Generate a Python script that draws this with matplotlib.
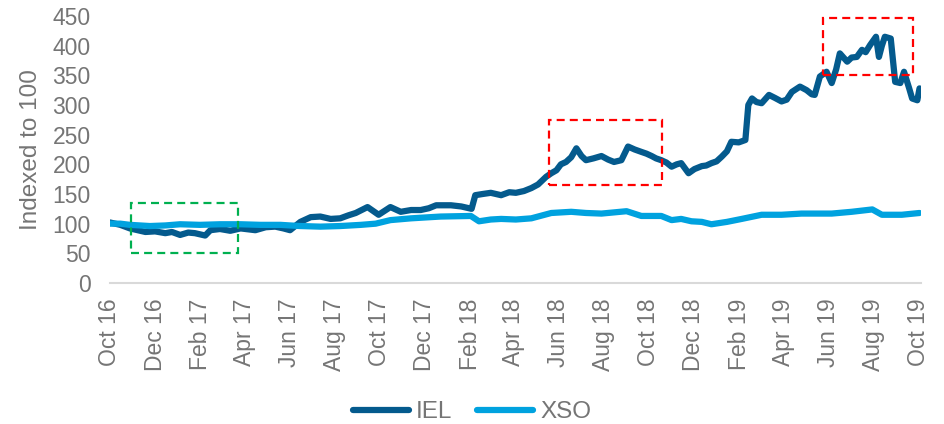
import matplotlib
matplotlib.use("Agg")
import matplotlib.pyplot as plt
import matplotlib.dates as mdates
from matplotlib.patches import Rectangle
import pandas as pd

plt.rcParams['font.family'] = ['Liberation Sans', 'DejaVu Sans']

# ---------------- data ----------------
iel_dates = [
    "2016-10-01", "2016-10-15", "2016-10-28", "2016-11-18", "2016-12-01", "2016-12-15",
    "2016-12-24", "2017-01-04", "2017-01-15", "2017-01-24", "2017-02-07", "2017-02-14",
    "2017-02-27", "2017-03-13", "2017-03-27", "2017-04-16", "2017-04-30", "2017-05-13",
    "2017-05-24", "2017-06-02", "2017-06-16", "2017-06-30", "2017-07-13", "2017-07-27",
    "2017-08-09", "2017-08-20", "2017-08-30", "2017-09-15", "2017-09-30", "2017-10-16",
    "2017-10-30", "2017-11-13", "2017-11-26", "2017-12-07", "2017-12-17", "2018-01-06",
    "2018-01-20", "2018-02-03", "2018-02-08", "2018-02-18", "2018-03-01", "2018-03-15",
    "2018-03-26", "2018-04-04", "2018-04-15", "2018-04-25", "2018-05-04", "2018-05-15",
    "2018-05-22", "2018-05-29", "2018-06-04", "2018-06-11", "2018-06-18", "2018-06-25",
    "2018-07-02", "2018-07-08", "2018-07-18", "2018-07-29", "2018-08-07", "2018-08-15",
    "2018-08-25", "2018-09-03", "2018-09-12", "2018-09-21", "2018-09-28", "2018-10-05",
    "2018-10-11", "2018-10-18", "2018-10-25", "2018-11-01", "2018-11-08", "2018-11-14",
    "2018-11-24", "2018-12-02", "2018-12-12", "2018-12-18", "2018-12-25", "2019-01-01",
    "2019-01-08", "2019-01-15", "2019-01-21", "2019-01-31", "2019-02-09", "2019-02-13",
    "2019-02-18", "2019-02-24", "2019-03-03", "2019-03-13", "2019-03-21", "2019-03-30",
    "2019-04-06", "2019-04-13", "2019-04-24", "2019-05-03", "2019-05-10", "2019-05-14",
    "2019-05-21", "2019-05-30", "2019-06-06", "2019-06-12", "2019-06-17", "2019-06-27",
    "2019-07-03", "2019-07-10", "2019-07-17", "2019-07-22", "2019-07-28", "2019-08-05",
    "2019-08-09", "2019-08-13", "2019-08-17", "2019-08-25", "2019-08-31", "2019-09-07",
    "2019-09-12", "2019-09-19", "2019-09-23", "2019-09-30", "2019-10-03",
]
iel_values = [
    102, 98, 92, 86, 87, 84,
    86, 81, 85, 84, 80, 89,
    91, 88, 92, 89, 94, 95,
    92, 89, 103, 111, 112, 108,
    109, 114, 118, 128, 115, 128,
    120, 123, 123, 126, 131, 131,
    129, 125, 148, 150, 152, 148,
    153, 152, 155, 160, 166, 179,
    185, 190, 200, 204, 212, 227,
    214, 207, 210, 214, 208, 204,
    207, 230, 225, 221, 218, 214,
    210, 207, 203, 196, 200, 202,
    185, 192, 197, 198, 202, 205,
    213, 222, 238, 237, 241, 300,
    311, 305, 303, 317, 312, 306,
    309, 322, 331, 325, 318, 317,
    348, 356, 337, 360, 387, 373,
    380, 381, 393, 389, 401, 415,
    381, 400, 415, 412, 339, 337,
    356, 328, 311, 308, 328,
]

xso_dates = [
    "2016-10-01", "2016-10-15", "2016-10-28", "2016-11-24", "2016-12-15", "2017-01-04",
    "2017-01-31", "2017-02-27", "2017-03-27", "2017-04-23", "2017-05-20", "2017-06-02",
    "2017-06-16", "2017-07-13", "2017-08-09", "2017-09-06", "2017-09-26", "2017-10-16",
    "2017-11-13", "2017-12-23", "2018-02-02", "2018-02-13", "2018-03-01", "2018-03-15",
    "2018-04-04", "2018-04-25", "2018-05-22", "2018-06-18", "2018-07-08", "2018-07-29",
    "2018-09-01", "2018-09-21", "2018-10-18", "2018-11-01", "2018-11-14", "2018-11-28",
    "2018-12-12", "2018-12-25", "2019-01-15", "2019-02-04", "2019-03-03", "2019-03-30",
    "2019-04-26", "2019-06-06", "2019-07-03", "2019-07-31", "2019-08-13", "2019-09-09",
    "2019-10-03",
]
xso_values = [
    100, 100, 98, 96, 97, 99,
    98, 99, 99, 98, 98, 97,
    96, 95, 96, 98, 100, 106,
    109, 112, 113, 104, 107, 108,
    107, 109, 118, 120, 118, 117,
    121, 113, 113, 106, 108, 104,
    103, 99, 103, 108, 115, 115,
    117, 117, 120, 124, 115, 115,
    118,
]

series_names = ["IEL", "XSO"]
tick_dates = pd.date_range("2016-10-01", "2019-10-01", freq="2MS")
tick_labels = [d.strftime("%b %y") for d in tick_dates]
y_ticks = [0, 50, 100, 150, 200, 250, 300, 350, 400, 450]

# highlight boxes: (start date, end date, low, high, colour)
boxes = [
    ("2016-10-29", "2017-03-24", 50, 135, "#00B050"),
    ("2018-05-19", "2018-10-19", 165, 275, "#FF0000"),
    ("2019-05-25", "2019-09-24", 350, 446, "#FF0000"),
]

# ---------------- plot ----------------
fig = plt.figure(figsize=(9.45, 4.24), dpi=100)
ax = fig.add_axes([110 / 945, 1 - 283 / 424, 811 / 945, 267 / 424])

c_iel = "#045A8D"
c_xso = "#00A2DF"
lw = 4.5
ax.plot(pd.to_datetime(iel_dates), iel_values, color=c_iel, lw=lw, label=series_names[0],
        solid_capstyle="round", solid_joinstyle="round", zorder=3)
ax.plot(pd.to_datetime(xso_dates), xso_values, color=c_xso, lw=lw, label=series_names[1],
        solid_capstyle="round", solid_joinstyle="round", zorder=4)

for start, end, lo, hi, col in boxes:
    x0 = mdates.date2num(pd.Timestamp(start))
    x1 = mdates.date2num(pd.Timestamp(end))
    ax.add_patch(Rectangle((x0, lo), x1 - x0, hi - lo, fill=False, edgecolor=col,
                           lw=1.6, linestyle=(0, (3.6, 2.3)), zorder=5, clip_on=False))

ax.set_xlim(mdates.date2num(pd.Timestamp("2016-10-01")), mdates.date2num(pd.Timestamp("2019-10-05")))
ax.set_ylim(0, 450)
ax.set_yticks(y_ticks)
ax.set_xticks(tick_dates)
ax.set_xticklabels(tick_labels, rotation=90)

text_col = "#757575"
ax.tick_params(axis="y", length=0, pad=14, labelsize=16.5, labelcolor=text_col)
ax.tick_params(axis="x", length=0, pad=11, labelsize=16.5, labelcolor=text_col)

for s in ["top", "right", "left"]:
    ax.spines[s].set_visible(False)
ax.spines["bottom"].set_color("#D9D9D9")
ax.spines["bottom"].set_linewidth(1.5)

ax.set_ylabel("Indexed to 100", fontsize=17.5, color=text_col)
ax.yaxis.set_label_coords(-0.084, 0.5)

leg = fig.legend(loc="center", bbox_to_anchor=(472 / 945, 1 - 412 / 424), ncol=2, frameon=False,
                 fontsize=17.5, handlelength=2.3, handletextpad=0.3, columnspacing=1.0,
                 labelcolor=text_col)

fig.savefig("out.png", dpi=100)
